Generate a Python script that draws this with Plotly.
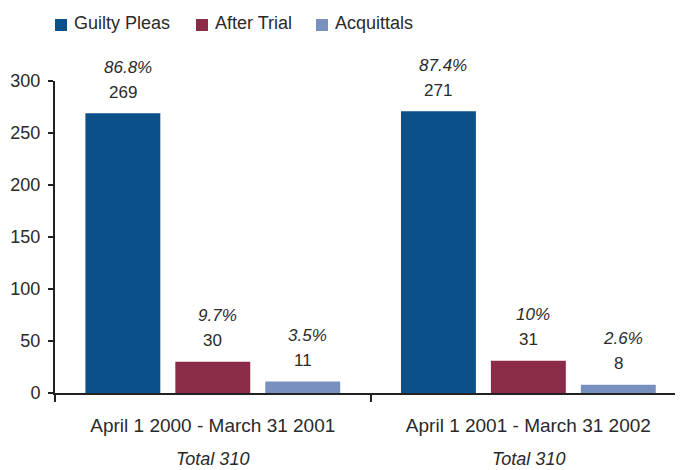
import plotly.graph_objects as go

categories = ["April 1 2000 - March 31 2001", "April 1 2001 - March 31 2002"]
series_names = ["Guilty Pleas", "After Trial", "Acquittals"]
guilty = [269, 271]
after_trial = [30, 31]
acquittals = [11, 8]
guilty_pct = ["86.8%", "87.4%"]
after_pct = ["9.7%", "10%"]
acq_pct = ["3.5%", "2.6%"]
totals = ["Total 310", "Total 310"]

colors = ["#0B5088", "#8A2C48", "#7890BE"]
FONT = "Liberation Sans, Arial, Helvetica, sans-serif"
TXT = "#2a2a2a"

# the page body adds an 8px offset; figure sized to fit the 683x470 window
W, H = 675, 462
ML, MR, MT, MB = 47, 0, 73, 77
PW, PH = W - ML - MR, H - MT - MB
bargap = 0.145
bargroupgap = 0.167

values = [guilty, after_trial, acquittals]
pcts = [guilty_pct, after_pct, acq_pct]

# legend key layout (figure pixels): swatch left edges and label left edges
legend_swatch_x = [47, 188, 308]
legend_text_x = [64, 205, 325]
legend_y = 15
swatch = 12


def px_to_paper_x(px):
    return (px - ML) / PW


def px_to_paper_y(py):
    return (H - MB - py) / PH


fig = go.Figure()
for name, vals, col in zip(series_names, values, colors):
    fig.add_trace(go.Bar(x=categories, y=vals, name=name, showlegend=False,
                         marker=dict(color=col, line=dict(width=0))))

annotations = []
shapes = []
slot = (1 - bargap) / 3
for i, (vals, pc) in enumerate(zip(values, pcts)):
    for j, (v, p) in enumerate(zip(vals, pc)):
        xpos = j + (i - 1) * slot
        annotations.append(dict(x=xpos, y=v, xref="x", yref="y", text=str(v), showarrow=False,
                                yanchor="middle", yshift=21, font=dict(size=17, color=TXT, family=FONT)))
        annotations.append(dict(x=xpos, y=v, xref="x", yref="y", text="<i>" + p + "</i>", showarrow=False,
                                yanchor="middle", yshift=46, xshift=5, font=dict(size=17, color=TXT, family=FONT)))
for j, t in enumerate(totals):
    annotations.append(dict(x=j, y=0, xref="x", yref="paper", text="<i>" + t + "</i>", showarrow=False,
                            yanchor="middle", yshift=-66, font=dict(size=18, color=TXT, family=FONT)))

# legend: coloured swatches plus labels
for name, col, sx, tx in zip(series_names, colors, legend_swatch_x, legend_text_x):
    shapes.append(dict(type="rect", xref="paper", yref="paper",
                       x0=px_to_paper_x(sx), x1=px_to_paper_x(sx + swatch),
                       y0=px_to_paper_y(legend_y + swatch / 2 + 2), y1=px_to_paper_y(legend_y - swatch / 2 + 2),
                       fillcolor=col, line=dict(width=0)))
    annotations.append(dict(x=px_to_paper_x(tx), y=px_to_paper_y(legend_y), xref="paper", yref="paper",
                            text=name, showarrow=False, xanchor="left", yanchor="middle",
                            font=dict(size=18, color=TXT, family=FONT)))

fig.update_layout(
    width=W, height=H,
    margin=dict(l=ML, r=MR, t=MT, b=MB, autoexpand=False),
    paper_bgcolor="white", plot_bgcolor="white",
    barmode="group", bargap=bargap, bargroupgap=bargroupgap,
    font=dict(family=FONT, size=17, color=TXT),
    showlegend=False,
    annotations=annotations,
    shapes=shapes,
    xaxis=dict(type="category", range=[-0.5, 1.49], showgrid=False, showline=True, linecolor="#222",
               linewidth=2, ticks="outside", tickson="boundaries", ticklen=7, tickwidth=2, tickcolor="#222",
               ticklabelstandoff=14, tickfont=dict(size=19, color=TXT, family=FONT)),
    yaxis=dict(range=[0, 300], tickvals=[0, 50, 100, 150, 200, 250, 300], showgrid=False, zeroline=False,
               showline=True, linecolor="#222", linewidth=2, ticks="outside", ticklen=5, tickwidth=2,
               tickcolor="#222", ticklabelstandoff=4, tickfont=dict(size=18, color=TXT, family=FONT)),
)

fig.write_html("out.html")
